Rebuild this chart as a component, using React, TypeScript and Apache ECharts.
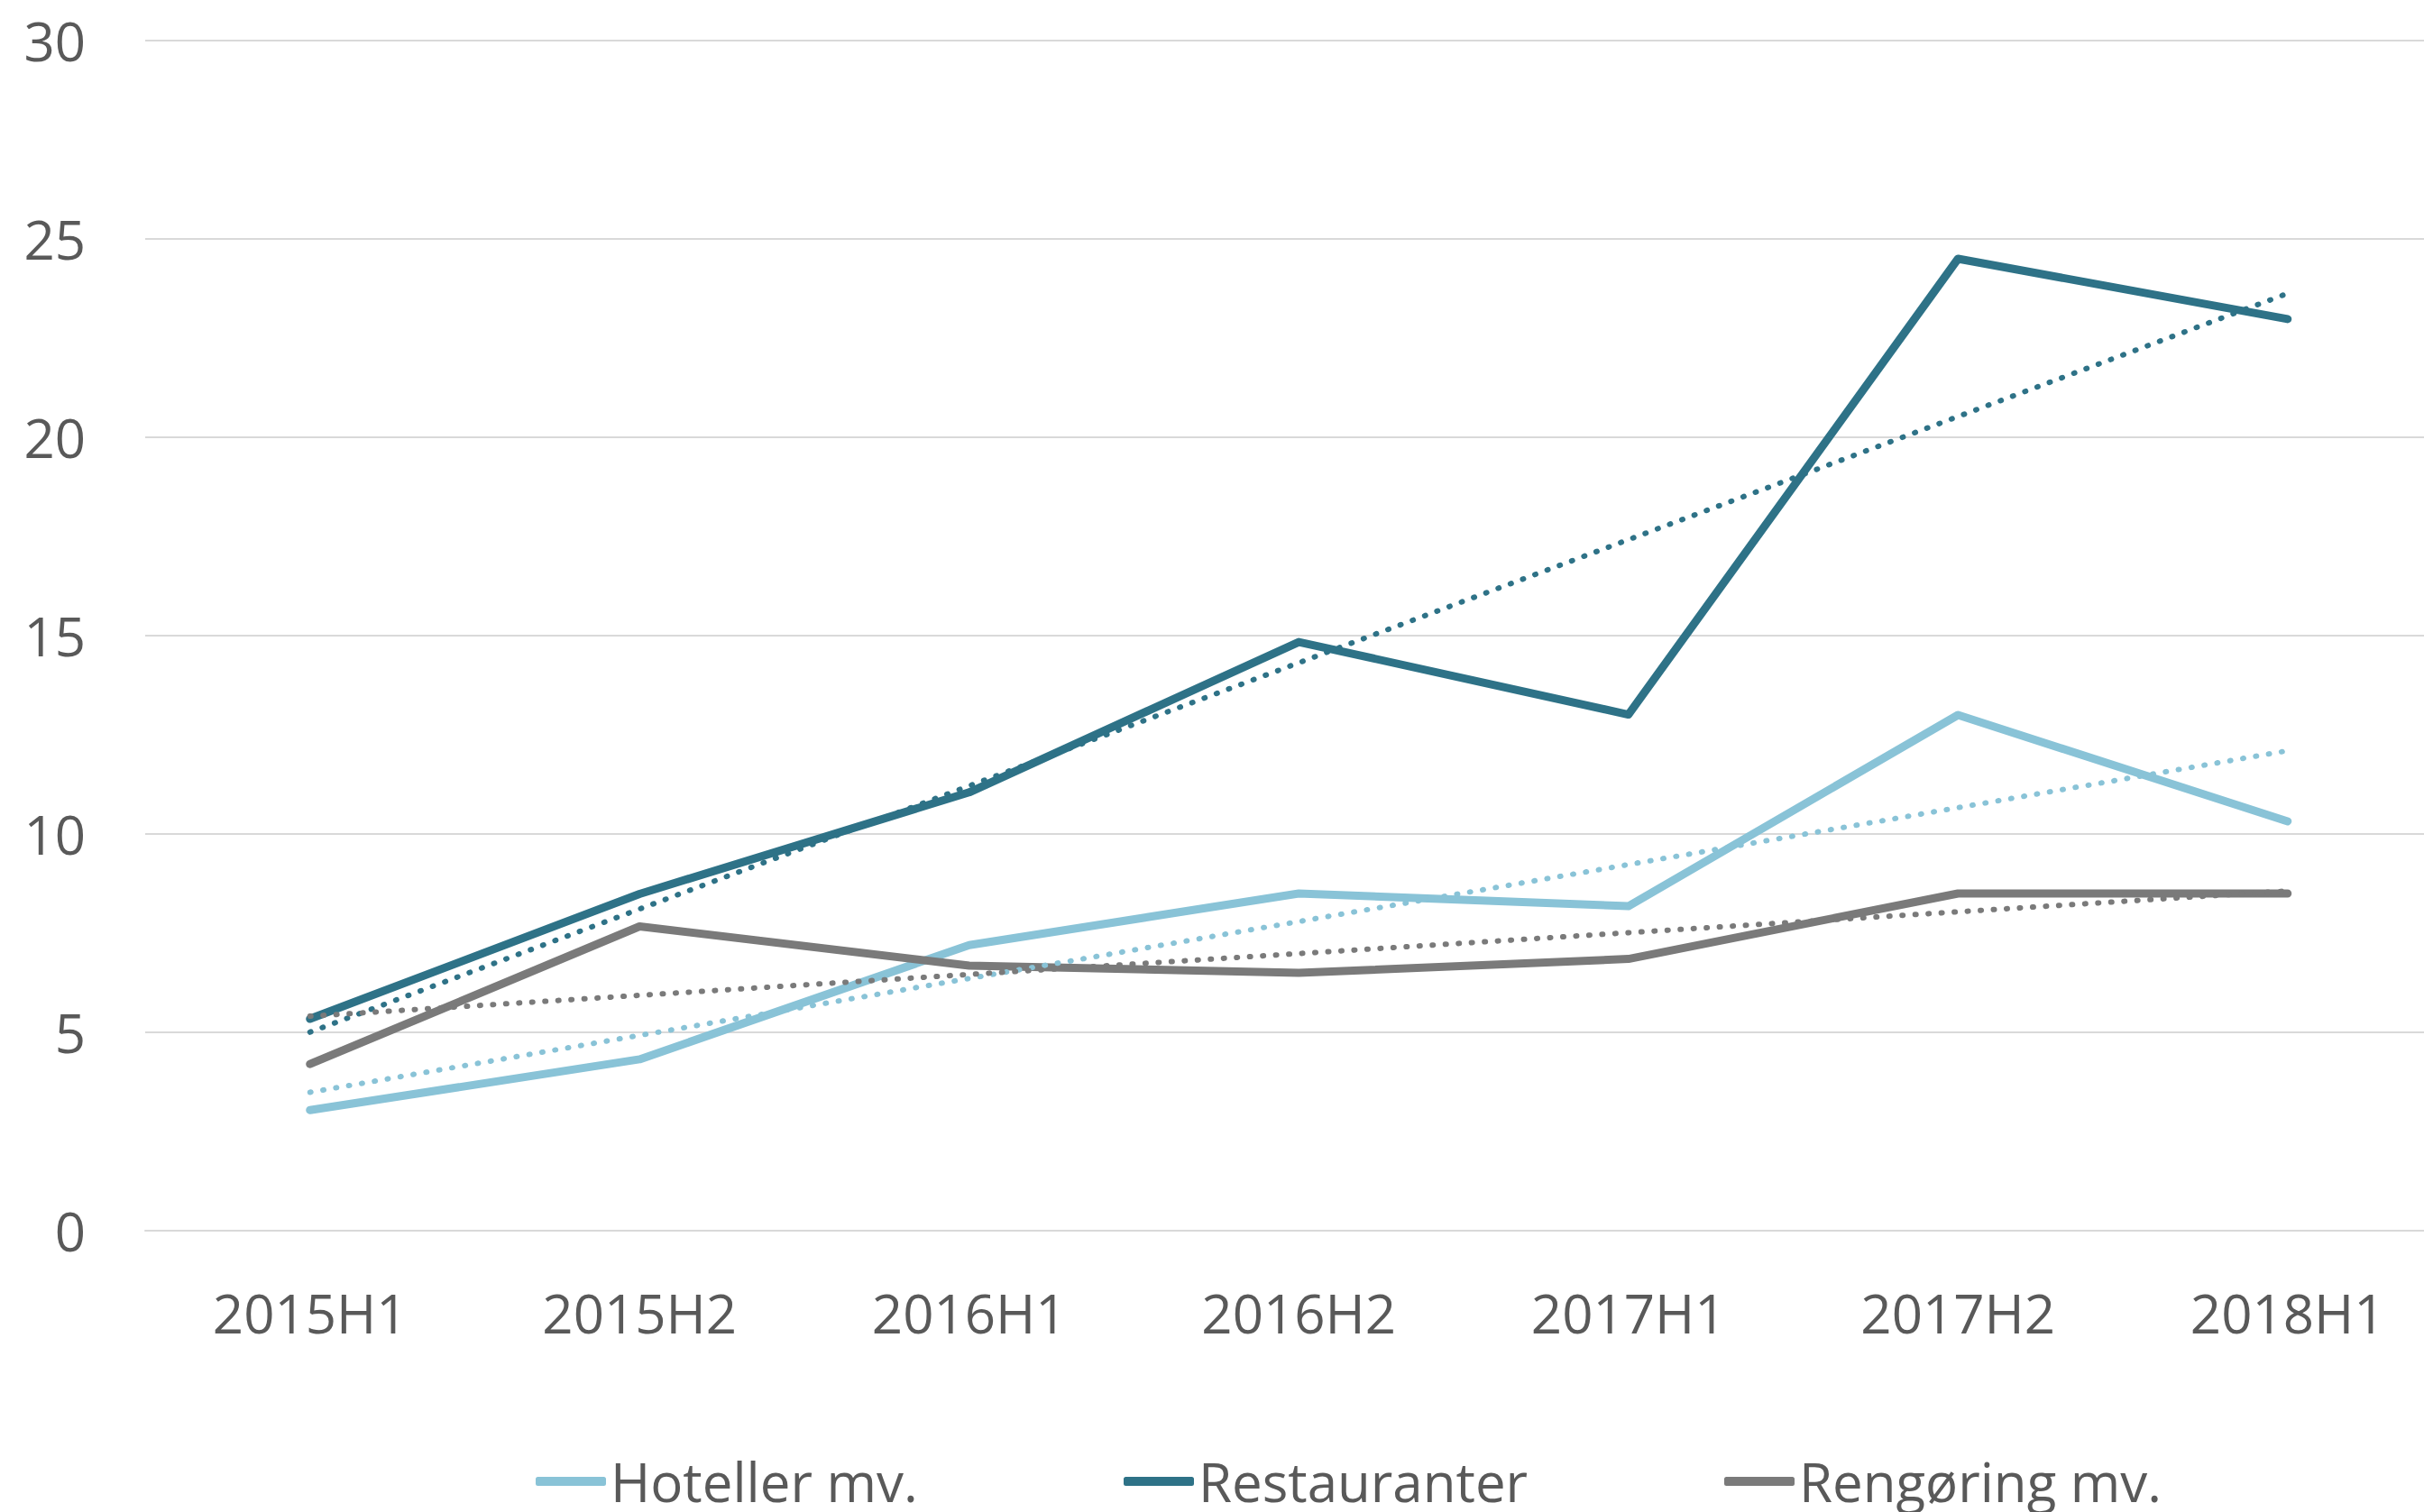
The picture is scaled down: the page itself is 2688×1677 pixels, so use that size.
import React, { useEffect, useRef } from "react";
import * as echarts from "echarts";

const categories = ["2015H1", "2015H2", "2016H1", "2016H2", "2017H1", "2017H2", "2018H1"];
const hoteller = [3.04, 4.32, 7.2, 8.5, 8.18, 13.0, 10.32];
const restauranter = [5.34, 8.49, 11.05, 14.84, 13.01, 24.5, 22.98];
const rengoring = [4.2, 7.67, 6.68, 6.5, 6.85, 8.5, 8.5];
const seriesNames = ["Hoteller mv.", "Restauranter", "Rengøring mv."];
const colors = ["#89C3D7", "#2E7287", "#7A7A7A"];
const yTicks = { min: 0, max: 30, interval: 5 };

// Linear (least-squares) trendline, as Excel computes it from the series values
function linTrend(vals: number[]): number[] {
  const n = vals.length;
  const mx = (n - 1) / 2;
  const my = vals.reduce((a, b) => a + b, 0) / n;
  let sxy = 0;
  let sxx = 0;
  vals.forEach((v, i) => {
    sxy += (i - mx) * (v - my);
    sxx += (i - mx) * (i - mx);
  });
  const b = sxy / sxx;
  const a = my - b * mx;
  return vals.map((_, i) => +(a + b * i).toFixed(3));
}

export default function App() {
  const ref = useRef<HTMLDivElement>(null);
  useEffect(() => {
    if (!ref.current) return;
    const chart = echarts.init(ref.current, null, { renderer: "svg" });
    const font = "'Open Sans', 'Noto Sans', sans-serif";
    const textColor = "#595959";
    const data = [hoteller, restauranter, rengoring];
    const legendLefts = [594, 1246, 1912];

    const mainSeries = data.map((d, i) => ({
      name: seriesNames[i],
      type: "line",
      data: d,
      symbol: "none",
      lineStyle: { color: colors[i], width: 9, cap: "round", join: "round" },
      itemStyle: { color: colors[i] },
      z: 2,
    }));
    const trendSeries = data.map((d, i) => ({
      name: seriesNames[i] + " trend",
      type: "line",
      data: linTrend(d),
      symbol: "none",
      lineStyle: { color: colors[i], width: 6, type: [1, 13.5], cap: "round" },
      itemStyle: { color: colors[i] },
      z: 3,
    }));

    chart.setOption({
      animation: false,
      backgroundColor: "#ffffff",
      textStyle: { fontFamily: font },
      grid: { left: 161, top: 45, width: 2558.5, height: 1320 },
      legend: seriesNames.map((n, i) => ({
        data: [n],
        left: legendLefts[i],
        top: 1613,
        padding: 0,
        icon: "roundRect",
        itemWidth: 78,
        itemHeight: 10,
        selectedMode: false,
        textStyle: { fontSize: 60, color: textColor, fontFamily: font },
      })),
      xAxis: {
        type: "category",
        data: categories,
        boundaryGap: true,
        axisLine: { show: true, lineStyle: { color: "#d9d9d9", width: 2 } },
        axisTick: { show: false },
        axisLabel: { color: textColor, fontSize: 60, fontFamily: font, margin: 61 },
        splitLine: { show: false },
      },
      yAxis: {
        type: "value",
        min: yTicks.min,
        max: yTicks.max,
        interval: yTicks.interval,
        axisLine: { show: false },
        axisTick: { show: false },
        axisLabel: { color: textColor, fontSize: 60, fontFamily: font, margin: 66 },
        splitLine: { show: true, lineStyle: { color: "#d9d9d9", width: 2 } },
      },
      series: [...mainSeries, ...trendSeries],
    });
    return () => chart.dispose();
  }, []);
  return (
    <div
      style={{ position: "absolute", left: 0, top: 0, width: 2688, height: 1677, overflow: "hidden", background: "#fff" }}
    >
      <div ref={ref} style={{ width: 2730, height: 1677 }} />
    </div>
  );
}
